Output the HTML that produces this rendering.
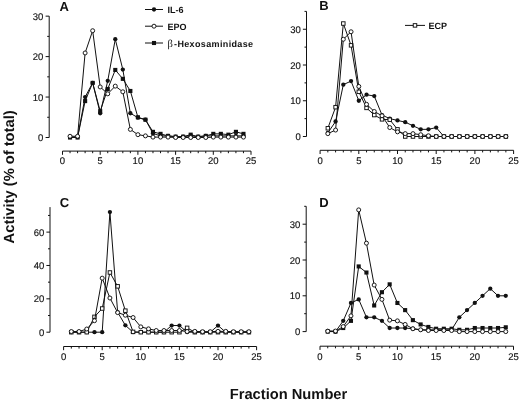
<!DOCTYPE html>
<html lang="en"><head><meta charset="utf-8"><title>Activity vs Fraction Number</title>
<style>
html,body{margin:0;padding:0;background:#fff;}
body{width:520px;height:400px;overflow:hidden;}
svg{display:block;will-change:transform;}
text{font-family:"Liberation Sans",Arial,Helvetica,sans-serif;fill:#111;text-rendering:geometricPrecision;}
.tk{font-size:9.7px;stroke:#111;stroke-width:0.15px;}
.pl{font-size:13px;font-weight:bold;}
.lg{font-size:9px;font-weight:bold;}
.ax{font-size:14.7px;font-weight:bold;}
</style></head><body>
<svg width="520" height="400" viewBox="0 0 520 400">
<rect width="520" height="400" fill="#fff"/>

<g id="panelA">
<g stroke="#111" stroke-width="1.0" fill="none">
<path d="M49.2 16.15V137.5"/>
<path d="M45.6 137.5H49.2M45.6 97.05H49.2M45.6 56.6H49.2M45.6 16.15H49.2M47.2 117.28H49.2M47.2 76.83H49.2M47.2 36.38H49.2"/>
<path d="M62.5 151.1H251"/>
<path d="M62.5 151.1v3.7M70.04 151.1v2.1M77.58 151.1v2.1M85.12 151.1v2.1M92.66 151.1v2.1M100.2 151.1v3.7M107.74 151.1v2.1M115.28 151.1v2.1M122.82 151.1v2.1M130.36 151.1v2.1M137.9 151.1v3.7M145.44 151.1v2.1M152.98 151.1v2.1M160.52 151.1v2.1M168.06 151.1v2.1M175.6 151.1v3.7M183.14 151.1v2.1M190.68 151.1v2.1M198.22 151.1v2.1M205.76 151.1v2.1M213.3 151.1v3.7M220.84 151.1v2.1M228.38 151.1v2.1M235.92 151.1v2.1M243.46 151.1v2.1M251 151.1v3.7"/>
</g>
<text class="tk" x="43.4" y="141.1" text-anchor="end" textLength="5.28" lengthAdjust="spacingAndGlyphs">0</text>
<text class="tk" x="43.4" y="100.65" text-anchor="end" textLength="10.56" lengthAdjust="spacingAndGlyphs">10</text>
<text class="tk" x="43.4" y="60.2" text-anchor="end" textLength="10.56" lengthAdjust="spacingAndGlyphs">20</text>
<text class="tk" x="43.4" y="19.75" text-anchor="end" textLength="10.56" lengthAdjust="spacingAndGlyphs">30</text>
<text class="tk" x="62.5" y="164.3" text-anchor="middle" textLength="5.28" lengthAdjust="spacingAndGlyphs">0</text>
<text class="tk" x="100.2" y="164.3" text-anchor="middle" textLength="5.28" lengthAdjust="spacingAndGlyphs">5</text>
<text class="tk" x="137.9" y="164.3" text-anchor="middle" textLength="10.56" lengthAdjust="spacingAndGlyphs">10</text>
<text class="tk" x="175.6" y="164.3" text-anchor="middle" textLength="10.56" lengthAdjust="spacingAndGlyphs">15</text>
<text class="tk" x="213.3" y="164.3" text-anchor="middle" textLength="10.56" lengthAdjust="spacingAndGlyphs">20</text>
<text class="tk" x="251" y="164.3" text-anchor="middle" textLength="10.56" lengthAdjust="spacingAndGlyphs">25</text>
<text class="pl" x="64.3" y="11.4" text-anchor="middle">A</text>
<polyline points="70.04,137.5 77.58,137.5 85.12,101.09 92.66,82.89 100.2,111.21 107.74,88.96 115.28,69.95 122.82,78.85 130.36,90.98 137.9,117.28 145.44,119.7 152.98,131.84 160.52,133.86 168.06,135.88 175.6,136.69 183.14,136.69 190.68,134.67 198.22,136.69 205.76,135.88 213.3,133.86 220.84,133.86 228.38,134.67 235.92,131.84 243.46,133.86" fill="none" stroke="#111" stroke-width="1.0" stroke-linejoin="round"/>
<rect x="67.99" y="135.45" width="4.1" height="4.1" fill="#111"/><rect x="75.53" y="135.45" width="4.1" height="4.1" fill="#111"/><rect x="83.07" y="99.05" width="4.1" height="4.1" fill="#111"/><rect x="90.61" y="80.84" width="4.1" height="4.1" fill="#111"/><rect x="98.15" y="109.16" width="4.1" height="4.1" fill="#111"/><rect x="105.69" y="86.91" width="4.1" height="4.1" fill="#111"/><rect x="113.23" y="67.9" width="4.1" height="4.1" fill="#111"/><rect x="120.77" y="76.8" width="4.1" height="4.1" fill="#111"/><rect x="128.31" y="88.93" width="4.1" height="4.1" fill="#111"/><rect x="135.85" y="115.23" width="4.1" height="4.1" fill="#111"/><rect x="143.39" y="117.65" width="4.1" height="4.1" fill="#111"/><rect x="150.93" y="129.79" width="4.1" height="4.1" fill="#111"/><rect x="158.47" y="131.81" width="4.1" height="4.1" fill="#111"/><rect x="166.01" y="133.83" width="4.1" height="4.1" fill="#111"/><rect x="173.55" y="134.64" width="4.1" height="4.1" fill="#111"/><rect x="181.09" y="134.64" width="4.1" height="4.1" fill="#111"/><rect x="188.63" y="132.62" width="4.1" height="4.1" fill="#111"/><rect x="196.17" y="134.64" width="4.1" height="4.1" fill="#111"/><rect x="203.71" y="133.83" width="4.1" height="4.1" fill="#111"/><rect x="211.25" y="131.81" width="4.1" height="4.1" fill="#111"/><rect x="218.79" y="131.81" width="4.1" height="4.1" fill="#111"/><rect x="226.33" y="132.62" width="4.1" height="4.1" fill="#111"/><rect x="233.87" y="129.79" width="4.1" height="4.1" fill="#111"/><rect x="241.41" y="131.81" width="4.1" height="4.1" fill="#111"/>
<polyline points="70.04,137.1 77.58,137.1 85.12,97.05 92.66,82.89 100.2,113.23 107.74,80.87 115.28,39.21 122.82,69.54 130.36,113.23 137.9,117.68 145.44,119.7 152.98,133.46 160.52,135.88 168.06,135.88 175.6,136.69 183.14,136.69 190.68,135.88 198.22,136.69 205.76,135.88 213.3,135.88 220.84,135.88 228.38,135.88 235.92,135.88 243.46,135.88" fill="none" stroke="#111" stroke-width="1.0" stroke-linejoin="round"/>
<circle cx="70.04" cy="137.1" r="2.15" fill="#111"/><circle cx="77.58" cy="137.1" r="2.15" fill="#111"/><circle cx="85.12" cy="97.05" r="2.15" fill="#111"/><circle cx="92.66" cy="82.89" r="2.15" fill="#111"/><circle cx="100.2" cy="113.23" r="2.15" fill="#111"/><circle cx="107.74" cy="80.87" r="2.15" fill="#111"/><circle cx="115.28" cy="39.21" r="2.15" fill="#111"/><circle cx="122.82" cy="69.54" r="2.15" fill="#111"/><circle cx="130.36" cy="113.23" r="2.15" fill="#111"/><circle cx="137.9" cy="117.68" r="2.15" fill="#111"/><circle cx="145.44" cy="119.7" r="2.15" fill="#111"/><circle cx="152.98" cy="133.46" r="2.15" fill="#111"/><circle cx="160.52" cy="135.88" r="2.15" fill="#111"/><circle cx="168.06" cy="135.88" r="2.15" fill="#111"/><circle cx="175.6" cy="136.69" r="2.15" fill="#111"/><circle cx="183.14" cy="136.69" r="2.15" fill="#111"/><circle cx="190.68" cy="135.88" r="2.15" fill="#111"/><circle cx="198.22" cy="136.69" r="2.15" fill="#111"/><circle cx="205.76" cy="135.88" r="2.15" fill="#111"/><circle cx="213.3" cy="135.88" r="2.15" fill="#111"/><circle cx="220.84" cy="135.88" r="2.15" fill="#111"/><circle cx="228.38" cy="135.88" r="2.15" fill="#111"/><circle cx="235.92" cy="135.88" r="2.15" fill="#111"/><circle cx="243.46" cy="135.88" r="2.15" fill="#111"/>
<polyline points="70.04,136.29 77.58,136.29 85.12,52.96 92.66,30.71 100.2,86.94 107.74,93.81 115.28,86.13 122.82,91.79 130.36,129.41 137.9,134.67 145.44,135.88 152.98,137.1 160.52,137.1 168.06,137.1 175.6,137.5 183.14,137.5 190.68,137.5 198.22,137.5 205.76,137.5 213.3,137.1 220.84,137.1 228.38,137.1 235.92,137.1 243.46,137.1" fill="none" stroke="#111" stroke-width="1.0" stroke-linejoin="round"/>
<circle cx="70.04" cy="136.29" r="2.0" fill="#fff" stroke="#111" stroke-width="0.95"/><circle cx="77.58" cy="136.29" r="2.0" fill="#fff" stroke="#111" stroke-width="0.95"/><circle cx="85.12" cy="52.96" r="2.0" fill="#fff" stroke="#111" stroke-width="0.95"/><circle cx="92.66" cy="30.71" r="2.0" fill="#fff" stroke="#111" stroke-width="0.95"/><circle cx="100.2" cy="86.94" r="2.0" fill="#fff" stroke="#111" stroke-width="0.95"/><circle cx="107.74" cy="93.81" r="2.0" fill="#fff" stroke="#111" stroke-width="0.95"/><circle cx="115.28" cy="86.13" r="2.0" fill="#fff" stroke="#111" stroke-width="0.95"/><circle cx="122.82" cy="91.79" r="2.0" fill="#fff" stroke="#111" stroke-width="0.95"/><circle cx="130.36" cy="129.41" r="2.0" fill="#fff" stroke="#111" stroke-width="0.95"/><circle cx="137.9" cy="134.67" r="2.0" fill="#fff" stroke="#111" stroke-width="0.95"/><circle cx="145.44" cy="135.88" r="2.0" fill="#fff" stroke="#111" stroke-width="0.95"/><circle cx="152.98" cy="137.1" r="2.0" fill="#fff" stroke="#111" stroke-width="0.95"/><circle cx="160.52" cy="137.1" r="2.0" fill="#fff" stroke="#111" stroke-width="0.95"/><circle cx="168.06" cy="137.1" r="2.0" fill="#fff" stroke="#111" stroke-width="0.95"/><circle cx="175.6" cy="137.5" r="2.0" fill="#fff" stroke="#111" stroke-width="0.95"/><circle cx="183.14" cy="137.5" r="2.0" fill="#fff" stroke="#111" stroke-width="0.95"/><circle cx="190.68" cy="137.5" r="2.0" fill="#fff" stroke="#111" stroke-width="0.95"/><circle cx="198.22" cy="137.5" r="2.0" fill="#fff" stroke="#111" stroke-width="0.95"/><circle cx="205.76" cy="137.5" r="2.0" fill="#fff" stroke="#111" stroke-width="0.95"/><circle cx="213.3" cy="137.1" r="2.0" fill="#fff" stroke="#111" stroke-width="0.95"/><circle cx="220.84" cy="137.1" r="2.0" fill="#fff" stroke="#111" stroke-width="0.95"/><circle cx="228.38" cy="137.1" r="2.0" fill="#fff" stroke="#111" stroke-width="0.95"/><circle cx="235.92" cy="137.1" r="2.0" fill="#fff" stroke="#111" stroke-width="0.95"/><circle cx="243.46" cy="137.1" r="2.0" fill="#fff" stroke="#111" stroke-width="0.95"/>
</g>
<g id="panelB">
<g stroke="#111" stroke-width="1.0" fill="none">
<path d="M306.5 11.38V136.5"/>
<path d="M302.9 136.5H306.5M302.9 100.75H306.5M302.9 65H306.5M302.9 29.25H306.5M304.5 118.62H306.5M304.5 82.88H306.5M304.5 47.12H306.5M304.5 11.38H306.5"/>
<path d="M320.1 150.3H513.6"/>
<path d="M320.1 150.3v3.7M327.84 150.3v2.1M335.58 150.3v2.1M343.32 150.3v2.1M351.06 150.3v2.1M358.8 150.3v3.7M366.54 150.3v2.1M374.28 150.3v2.1M382.02 150.3v2.1M389.76 150.3v2.1M397.5 150.3v3.7M405.24 150.3v2.1M412.98 150.3v2.1M420.72 150.3v2.1M428.46 150.3v2.1M436.2 150.3v3.7M443.94 150.3v2.1M451.68 150.3v2.1M459.42 150.3v2.1M467.16 150.3v2.1M474.9 150.3v3.7M482.64 150.3v2.1M490.38 150.3v2.1M498.12 150.3v2.1M505.86 150.3v2.1M513.6 150.3v3.7"/>
</g>
<text class="tk" x="300.7" y="140.1" text-anchor="end" textLength="5.28" lengthAdjust="spacingAndGlyphs">0</text>
<text class="tk" x="300.7" y="104.35" text-anchor="end" textLength="10.56" lengthAdjust="spacingAndGlyphs">10</text>
<text class="tk" x="300.7" y="68.6" text-anchor="end" textLength="10.56" lengthAdjust="spacingAndGlyphs">20</text>
<text class="tk" x="300.7" y="32.85" text-anchor="end" textLength="10.56" lengthAdjust="spacingAndGlyphs">30</text>
<text class="tk" x="320.1" y="163.6" text-anchor="middle" textLength="5.28" lengthAdjust="spacingAndGlyphs">0</text>
<text class="tk" x="358.8" y="163.6" text-anchor="middle" textLength="5.28" lengthAdjust="spacingAndGlyphs">5</text>
<text class="tk" x="397.5" y="163.6" text-anchor="middle" textLength="10.56" lengthAdjust="spacingAndGlyphs">10</text>
<text class="tk" x="436.2" y="163.6" text-anchor="middle" textLength="10.56" lengthAdjust="spacingAndGlyphs">15</text>
<text class="tk" x="474.9" y="163.6" text-anchor="middle" textLength="10.56" lengthAdjust="spacingAndGlyphs">20</text>
<text class="tk" x="513.6" y="163.6" text-anchor="middle" textLength="10.56" lengthAdjust="spacingAndGlyphs">25</text>
<text class="pl" x="324" y="10" text-anchor="middle">B</text>
<polyline points="327.84,132.93 335.58,121.48 343.32,84.66 351.06,81.09 358.8,100.75 366.54,94.67 374.28,96.1 382.02,115.05 389.76,118.62 397.5,120.41 405.24,122.2 412.98,125.78 420.72,129.35 428.46,129.35 436.2,127.56 443.94,136.5 451.68,136.5 459.42,136.5 467.16,136.5 474.9,136.5 482.64,136.5 490.38,136.5 498.12,136.5 505.86,136.5" fill="none" stroke="#111" stroke-width="1.0" stroke-linejoin="round"/>
<circle cx="327.84" cy="132.93" r="2.15" fill="#111"/><circle cx="335.58" cy="121.48" r="2.15" fill="#111"/><circle cx="343.32" cy="84.66" r="2.15" fill="#111"/><circle cx="351.06" cy="81.09" r="2.15" fill="#111"/><circle cx="358.8" cy="100.75" r="2.15" fill="#111"/><circle cx="366.54" cy="94.67" r="2.15" fill="#111"/><circle cx="374.28" cy="96.1" r="2.15" fill="#111"/><circle cx="382.02" cy="115.05" r="2.15" fill="#111"/><circle cx="389.76" cy="118.62" r="2.15" fill="#111"/><circle cx="397.5" cy="120.41" r="2.15" fill="#111"/><circle cx="405.24" cy="122.2" r="2.15" fill="#111"/><circle cx="412.98" cy="125.78" r="2.15" fill="#111"/><circle cx="420.72" cy="129.35" r="2.15" fill="#111"/><circle cx="428.46" cy="129.35" r="2.15" fill="#111"/><circle cx="436.2" cy="127.56" r="2.15" fill="#111"/><circle cx="443.94" cy="136.5" r="2.15" fill="#111"/><circle cx="451.68" cy="136.5" r="2.15" fill="#111"/><circle cx="459.42" cy="136.5" r="2.15" fill="#111"/><circle cx="467.16" cy="136.5" r="2.15" fill="#111"/><circle cx="474.9" cy="136.5" r="2.15" fill="#111"/><circle cx="482.64" cy="136.5" r="2.15" fill="#111"/><circle cx="490.38" cy="136.5" r="2.15" fill="#111"/><circle cx="498.12" cy="136.5" r="2.15" fill="#111"/><circle cx="505.86" cy="136.5" r="2.15" fill="#111"/>
<polyline points="327.84,128.28 335.58,107.19 343.32,23.53 351.06,45.34 358.8,91.81 366.54,107.9 374.28,115.05 382.02,119.34 389.76,119.7 397.5,129.35 405.24,136.5 412.98,136.5 420.72,136.5 428.46,136.5 436.2,136.5 443.94,136.5 451.68,136.5 459.42,136.5 467.16,136.5 474.9,136.5 482.64,136.5 490.38,136.5 498.12,136.5 505.86,136.5" fill="none" stroke="#111" stroke-width="1.0" stroke-linejoin="round"/>
<rect x="326.09" y="126.53" width="3.5" height="3.5" fill="#fff" stroke="#111" stroke-width="0.95"/><rect x="333.83" y="105.44" width="3.5" height="3.5" fill="#fff" stroke="#111" stroke-width="0.95"/><rect x="341.57" y="21.78" width="3.5" height="3.5" fill="#fff" stroke="#111" stroke-width="0.95"/><rect x="349.31" y="43.59" width="3.5" height="3.5" fill="#fff" stroke="#111" stroke-width="0.95"/><rect x="357.05" y="90.06" width="3.5" height="3.5" fill="#fff" stroke="#111" stroke-width="0.95"/><rect x="364.79" y="106.15" width="3.5" height="3.5" fill="#fff" stroke="#111" stroke-width="0.95"/><rect x="372.53" y="113.3" width="3.5" height="3.5" fill="#fff" stroke="#111" stroke-width="0.95"/><rect x="380.27" y="117.59" width="3.5" height="3.5" fill="#fff" stroke="#111" stroke-width="0.95"/><rect x="388.01" y="117.95" width="3.5" height="3.5" fill="#fff" stroke="#111" stroke-width="0.95"/><rect x="395.75" y="127.6" width="3.5" height="3.5" fill="#fff" stroke="#111" stroke-width="0.95"/><rect x="403.49" y="134.75" width="3.5" height="3.5" fill="#fff" stroke="#111" stroke-width="0.95"/><rect x="411.23" y="134.75" width="3.5" height="3.5" fill="#fff" stroke="#111" stroke-width="0.95"/><rect x="418.97" y="134.75" width="3.5" height="3.5" fill="#fff" stroke="#111" stroke-width="0.95"/><rect x="426.71" y="134.75" width="3.5" height="3.5" fill="#fff" stroke="#111" stroke-width="0.95"/><rect x="434.45" y="134.75" width="3.5" height="3.5" fill="#fff" stroke="#111" stroke-width="0.95"/><rect x="442.19" y="134.75" width="3.5" height="3.5" fill="#fff" stroke="#111" stroke-width="0.95"/><rect x="449.93" y="134.75" width="3.5" height="3.5" fill="#fff" stroke="#111" stroke-width="0.95"/><rect x="457.67" y="134.75" width="3.5" height="3.5" fill="#fff" stroke="#111" stroke-width="0.95"/><rect x="465.41" y="134.75" width="3.5" height="3.5" fill="#fff" stroke="#111" stroke-width="0.95"/><rect x="473.15" y="134.75" width="3.5" height="3.5" fill="#fff" stroke="#111" stroke-width="0.95"/><rect x="480.89" y="134.75" width="3.5" height="3.5" fill="#fff" stroke="#111" stroke-width="0.95"/><rect x="488.63" y="134.75" width="3.5" height="3.5" fill="#fff" stroke="#111" stroke-width="0.95"/><rect x="496.37" y="134.75" width="3.5" height="3.5" fill="#fff" stroke="#111" stroke-width="0.95"/><rect x="504.11" y="134.75" width="3.5" height="3.5" fill="#fff" stroke="#111" stroke-width="0.95"/>
<polyline points="327.84,133.64 335.58,130.06 343.32,39.26 351.06,31.75 358.8,86.45 366.54,104.32 374.28,111.47 382.02,115.77 389.76,127.56 397.5,131.85 405.24,133.64 412.98,133.64 420.72,134.71 428.46,135.78 436.2,136.5 443.94,136.5 451.68,136.5 459.42,136.5 467.16,136.5 474.9,136.5 482.64,136.5 490.38,136.5 498.12,136.5 505.86,136.5" fill="none" stroke="#111" stroke-width="1.0" stroke-linejoin="round"/>
<circle cx="327.84" cy="133.64" r="2.0" fill="#fff" stroke="#111" stroke-width="0.95"/><circle cx="335.58" cy="130.06" r="2.0" fill="#fff" stroke="#111" stroke-width="0.95"/><circle cx="343.32" cy="39.26" r="2.0" fill="#fff" stroke="#111" stroke-width="0.95"/><circle cx="351.06" cy="31.75" r="2.0" fill="#fff" stroke="#111" stroke-width="0.95"/><circle cx="358.8" cy="86.45" r="2.0" fill="#fff" stroke="#111" stroke-width="0.95"/><circle cx="366.54" cy="104.32" r="2.0" fill="#fff" stroke="#111" stroke-width="0.95"/><circle cx="374.28" cy="111.47" r="2.0" fill="#fff" stroke="#111" stroke-width="0.95"/><circle cx="382.02" cy="115.77" r="2.0" fill="#fff" stroke="#111" stroke-width="0.95"/><circle cx="389.76" cy="127.56" r="2.0" fill="#fff" stroke="#111" stroke-width="0.95"/><circle cx="397.5" cy="131.85" r="2.0" fill="#fff" stroke="#111" stroke-width="0.95"/><circle cx="405.24" cy="133.64" r="2.0" fill="#fff" stroke="#111" stroke-width="0.95"/><circle cx="412.98" cy="133.64" r="2.0" fill="#fff" stroke="#111" stroke-width="0.95"/><circle cx="420.72" cy="134.71" r="2.0" fill="#fff" stroke="#111" stroke-width="0.95"/><circle cx="428.46" cy="135.78" r="2.0" fill="#fff" stroke="#111" stroke-width="0.95"/><circle cx="436.2" cy="136.5" r="2.0" fill="#fff" stroke="#111" stroke-width="0.95"/><circle cx="443.94" cy="136.5" r="2.0" fill="#fff" stroke="#111" stroke-width="0.95"/><circle cx="451.68" cy="136.5" r="2.0" fill="#fff" stroke="#111" stroke-width="0.95"/><circle cx="459.42" cy="136.5" r="2.0" fill="#fff" stroke="#111" stroke-width="0.95"/><circle cx="467.16" cy="136.5" r="2.0" fill="#fff" stroke="#111" stroke-width="0.95"/><circle cx="474.9" cy="136.5" r="2.0" fill="#fff" stroke="#111" stroke-width="0.95"/><circle cx="482.64" cy="136.5" r="2.0" fill="#fff" stroke="#111" stroke-width="0.95"/><circle cx="490.38" cy="136.5" r="2.0" fill="#fff" stroke="#111" stroke-width="0.95"/><circle cx="498.12" cy="136.5" r="2.0" fill="#fff" stroke="#111" stroke-width="0.95"/><circle cx="505.86" cy="136.5" r="2.0" fill="#fff" stroke="#111" stroke-width="0.95"/>
</g>
<g id="panelC">
<g stroke="#111" stroke-width="1.0" fill="none">
<path d="M50 207.1V332.2"/>
<path d="M46.4 332.2H50M46.4 298.84H50M46.4 265.48H50M46.4 232.12H50M48 315.52H50M48 282.16H50M48 248.8H50M48 215.44H50"/>
<path d="M63.6 346.5H256.6"/>
<path d="M63.6 346.5v3.7M71.32 346.5v2.1M79.04 346.5v2.1M86.76 346.5v2.1M94.48 346.5v2.1M102.2 346.5v3.7M109.92 346.5v2.1M117.64 346.5v2.1M125.36 346.5v2.1M133.08 346.5v2.1M140.8 346.5v3.7M148.52 346.5v2.1M156.24 346.5v2.1M163.96 346.5v2.1M171.68 346.5v2.1M179.4 346.5v3.7M187.12 346.5v2.1M194.84 346.5v2.1M202.56 346.5v2.1M210.28 346.5v2.1M218 346.5v3.7M225.72 346.5v2.1M233.44 346.5v2.1M241.16 346.5v2.1M248.88 346.5v2.1M256.6 346.5v3.7"/>
</g>
<text class="tk" x="44.2" y="335.8" text-anchor="end" textLength="5.28" lengthAdjust="spacingAndGlyphs">0</text>
<text class="tk" x="44.2" y="302.44" text-anchor="end" textLength="10.56" lengthAdjust="spacingAndGlyphs">20</text>
<text class="tk" x="44.2" y="269.08" text-anchor="end" textLength="10.56" lengthAdjust="spacingAndGlyphs">40</text>
<text class="tk" x="44.2" y="235.72" text-anchor="end" textLength="10.56" lengthAdjust="spacingAndGlyphs">60</text>
<text class="tk" x="63.6" y="359.8" text-anchor="middle" textLength="5.28" lengthAdjust="spacingAndGlyphs">0</text>
<text class="tk" x="102.2" y="359.8" text-anchor="middle" textLength="5.28" lengthAdjust="spacingAndGlyphs">5</text>
<text class="tk" x="140.8" y="359.8" text-anchor="middle" textLength="10.56" lengthAdjust="spacingAndGlyphs">10</text>
<text class="tk" x="179.4" y="359.8" text-anchor="middle" textLength="10.56" lengthAdjust="spacingAndGlyphs">15</text>
<text class="tk" x="218" y="359.8" text-anchor="middle" textLength="10.56" lengthAdjust="spacingAndGlyphs">20</text>
<text class="tk" x="256.6" y="359.8" text-anchor="middle" textLength="10.56" lengthAdjust="spacingAndGlyphs">25</text>
<text class="pl" x="64.5" y="207" text-anchor="middle">C</text>
<polyline points="71.32,332.2 79.04,332.2 86.76,332.2 94.48,332.2 102.2,332.2 109.92,212.1 117.64,312.18 125.36,325.36 133.08,332.2 140.8,332.2 148.52,332.2 156.24,332.2 163.96,332.2 171.68,325.53 179.4,325.53 187.12,332.2 194.84,332.2 202.56,332.2 210.28,332.2 218,325.53 225.72,332.2 233.44,332.2 241.16,332.2 248.88,332.2" fill="none" stroke="#111" stroke-width="1.0" stroke-linejoin="round"/>
<circle cx="71.32" cy="332.2" r="2.15" fill="#111"/><circle cx="79.04" cy="332.2" r="2.15" fill="#111"/><circle cx="86.76" cy="332.2" r="2.15" fill="#111"/><circle cx="94.48" cy="332.2" r="2.15" fill="#111"/><circle cx="102.2" cy="332.2" r="2.15" fill="#111"/><circle cx="109.92" cy="212.1" r="2.15" fill="#111"/><circle cx="117.64" cy="312.18" r="2.15" fill="#111"/><circle cx="125.36" cy="325.36" r="2.15" fill="#111"/><circle cx="133.08" cy="332.2" r="2.15" fill="#111"/><circle cx="140.8" cy="332.2" r="2.15" fill="#111"/><circle cx="148.52" cy="332.2" r="2.15" fill="#111"/><circle cx="156.24" cy="332.2" r="2.15" fill="#111"/><circle cx="163.96" cy="332.2" r="2.15" fill="#111"/><circle cx="171.68" cy="325.53" r="2.15" fill="#111"/><circle cx="179.4" cy="325.53" r="2.15" fill="#111"/><circle cx="187.12" cy="332.2" r="2.15" fill="#111"/><circle cx="194.84" cy="332.2" r="2.15" fill="#111"/><circle cx="202.56" cy="332.2" r="2.15" fill="#111"/><circle cx="210.28" cy="332.2" r="2.15" fill="#111"/><circle cx="218" cy="325.53" r="2.15" fill="#111"/><circle cx="225.72" cy="332.2" r="2.15" fill="#111"/><circle cx="233.44" cy="332.2" r="2.15" fill="#111"/><circle cx="241.16" cy="332.2" r="2.15" fill="#111"/><circle cx="248.88" cy="332.2" r="2.15" fill="#111"/>
<polyline points="71.32,332.2 79.04,332.2 86.76,332.2 94.48,316.85 102.2,308.51 109.92,272.49 117.64,286.33 125.36,310.68 133.08,331.87 140.8,332.2 148.52,332.2 156.24,332.2 163.96,332.2 171.68,332.2 179.4,332.2 187.12,327.86 194.84,332.2 202.56,332.2 210.28,332.2 218,332.2 225.72,332.2 233.44,332.2 241.16,332.2 248.88,332.2" fill="none" stroke="#111" stroke-width="1.0" stroke-linejoin="round"/>
<rect x="69.57" y="330.45" width="3.5" height="3.5" fill="#fff" stroke="#111" stroke-width="0.95"/><rect x="77.29" y="330.45" width="3.5" height="3.5" fill="#fff" stroke="#111" stroke-width="0.95"/><rect x="85.01" y="330.45" width="3.5" height="3.5" fill="#fff" stroke="#111" stroke-width="0.95"/><rect x="92.73" y="315.1" width="3.5" height="3.5" fill="#fff" stroke="#111" stroke-width="0.95"/><rect x="100.45" y="306.76" width="3.5" height="3.5" fill="#fff" stroke="#111" stroke-width="0.95"/><rect x="108.17" y="270.74" width="3.5" height="3.5" fill="#fff" stroke="#111" stroke-width="0.95"/><rect x="115.89" y="284.58" width="3.5" height="3.5" fill="#fff" stroke="#111" stroke-width="0.95"/><rect x="123.61" y="308.93" width="3.5" height="3.5" fill="#fff" stroke="#111" stroke-width="0.95"/><rect x="131.33" y="330.12" width="3.5" height="3.5" fill="#fff" stroke="#111" stroke-width="0.95"/><rect x="139.05" y="330.45" width="3.5" height="3.5" fill="#fff" stroke="#111" stroke-width="0.95"/><rect x="146.77" y="330.45" width="3.5" height="3.5" fill="#fff" stroke="#111" stroke-width="0.95"/><rect x="154.49" y="330.45" width="3.5" height="3.5" fill="#fff" stroke="#111" stroke-width="0.95"/><rect x="162.21" y="330.45" width="3.5" height="3.5" fill="#fff" stroke="#111" stroke-width="0.95"/><rect x="169.93" y="330.45" width="3.5" height="3.5" fill="#fff" stroke="#111" stroke-width="0.95"/><rect x="177.65" y="330.45" width="3.5" height="3.5" fill="#fff" stroke="#111" stroke-width="0.95"/><rect x="185.37" y="326.11" width="3.5" height="3.5" fill="#fff" stroke="#111" stroke-width="0.95"/><rect x="193.09" y="330.45" width="3.5" height="3.5" fill="#fff" stroke="#111" stroke-width="0.95"/><rect x="200.81" y="330.45" width="3.5" height="3.5" fill="#fff" stroke="#111" stroke-width="0.95"/><rect x="208.53" y="330.45" width="3.5" height="3.5" fill="#fff" stroke="#111" stroke-width="0.95"/><rect x="216.25" y="330.45" width="3.5" height="3.5" fill="#fff" stroke="#111" stroke-width="0.95"/><rect x="223.97" y="330.45" width="3.5" height="3.5" fill="#fff" stroke="#111" stroke-width="0.95"/><rect x="231.69" y="330.45" width="3.5" height="3.5" fill="#fff" stroke="#111" stroke-width="0.95"/><rect x="239.41" y="330.45" width="3.5" height="3.5" fill="#fff" stroke="#111" stroke-width="0.95"/><rect x="247.13" y="330.45" width="3.5" height="3.5" fill="#fff" stroke="#111" stroke-width="0.95"/>
<polyline points="71.32,331.53 79.04,331.53 86.76,329.03 94.48,320.69 102.2,278.16 109.92,298.01 117.64,312.6 125.36,315.19 133.08,317.52 140.8,326.86 148.52,328.86 156.24,330.53 163.96,330.53 171.68,330.53 179.4,330.53 187.12,331.53 194.84,331.37 202.56,331.7 210.28,331.7 218,331.37 225.72,331.37 233.44,331.7 241.16,331.7 248.88,331.7" fill="none" stroke="#111" stroke-width="1.0" stroke-linejoin="round"/>
<circle cx="71.32" cy="331.53" r="2.0" fill="#fff" stroke="#111" stroke-width="0.95"/><circle cx="79.04" cy="331.53" r="2.0" fill="#fff" stroke="#111" stroke-width="0.95"/><circle cx="86.76" cy="329.03" r="2.0" fill="#fff" stroke="#111" stroke-width="0.95"/><circle cx="94.48" cy="320.69" r="2.0" fill="#fff" stroke="#111" stroke-width="0.95"/><circle cx="102.2" cy="278.16" r="2.0" fill="#fff" stroke="#111" stroke-width="0.95"/><circle cx="109.92" cy="298.01" r="2.0" fill="#fff" stroke="#111" stroke-width="0.95"/><circle cx="117.64" cy="312.6" r="2.0" fill="#fff" stroke="#111" stroke-width="0.95"/><circle cx="125.36" cy="315.19" r="2.0" fill="#fff" stroke="#111" stroke-width="0.95"/><circle cx="133.08" cy="317.52" r="2.0" fill="#fff" stroke="#111" stroke-width="0.95"/><circle cx="140.8" cy="326.86" r="2.0" fill="#fff" stroke="#111" stroke-width="0.95"/><circle cx="148.52" cy="328.86" r="2.0" fill="#fff" stroke="#111" stroke-width="0.95"/><circle cx="156.24" cy="330.53" r="2.0" fill="#fff" stroke="#111" stroke-width="0.95"/><circle cx="163.96" cy="330.53" r="2.0" fill="#fff" stroke="#111" stroke-width="0.95"/><circle cx="171.68" cy="330.53" r="2.0" fill="#fff" stroke="#111" stroke-width="0.95"/><circle cx="179.4" cy="330.53" r="2.0" fill="#fff" stroke="#111" stroke-width="0.95"/><circle cx="187.12" cy="331.53" r="2.0" fill="#fff" stroke="#111" stroke-width="0.95"/><circle cx="194.84" cy="331.37" r="2.0" fill="#fff" stroke="#111" stroke-width="0.95"/><circle cx="202.56" cy="331.7" r="2.0" fill="#fff" stroke="#111" stroke-width="0.95"/><circle cx="210.28" cy="331.7" r="2.0" fill="#fff" stroke="#111" stroke-width="0.95"/><circle cx="218" cy="331.37" r="2.0" fill="#fff" stroke="#111" stroke-width="0.95"/><circle cx="225.72" cy="331.37" r="2.0" fill="#fff" stroke="#111" stroke-width="0.95"/><circle cx="233.44" cy="331.7" r="2.0" fill="#fff" stroke="#111" stroke-width="0.95"/><circle cx="241.16" cy="331.7" r="2.0" fill="#fff" stroke="#111" stroke-width="0.95"/><circle cx="248.88" cy="331.7" r="2.0" fill="#fff" stroke="#111" stroke-width="0.95"/>
</g>
<g id="panelD">
<g stroke="#111" stroke-width="1.0" fill="none">
<path d="M306.2 206.3V331.6"/>
<path d="M302.6 331.6H306.2M302.6 295.8H306.2M302.6 260H306.2M302.6 224.2H306.2M304.2 313.7H306.2M304.2 277.9H306.2M304.2 242.1H306.2M304.2 206.3H306.2"/>
<path d="M320 346.2H513.5"/>
<path d="M320 346.2v3.7M327.74 346.2v2.1M335.48 346.2v2.1M343.22 346.2v2.1M350.96 346.2v2.1M358.7 346.2v3.7M366.44 346.2v2.1M374.18 346.2v2.1M381.92 346.2v2.1M389.66 346.2v2.1M397.4 346.2v3.7M405.14 346.2v2.1M412.88 346.2v2.1M420.62 346.2v2.1M428.36 346.2v2.1M436.1 346.2v3.7M443.84 346.2v2.1M451.58 346.2v2.1M459.32 346.2v2.1M467.06 346.2v2.1M474.8 346.2v3.7M482.54 346.2v2.1M490.28 346.2v2.1M498.02 346.2v2.1M505.76 346.2v2.1M513.5 346.2v3.7"/>
</g>
<text class="tk" x="300.4" y="335.2" text-anchor="end" textLength="5.28" lengthAdjust="spacingAndGlyphs">0</text>
<text class="tk" x="300.4" y="299.4" text-anchor="end" textLength="10.56" lengthAdjust="spacingAndGlyphs">10</text>
<text class="tk" x="300.4" y="263.6" text-anchor="end" textLength="10.56" lengthAdjust="spacingAndGlyphs">20</text>
<text class="tk" x="300.4" y="227.8" text-anchor="end" textLength="10.56" lengthAdjust="spacingAndGlyphs">30</text>
<text class="tk" x="320" y="360" text-anchor="middle" textLength="5.28" lengthAdjust="spacingAndGlyphs">0</text>
<text class="tk" x="358.7" y="360" text-anchor="middle" textLength="5.28" lengthAdjust="spacingAndGlyphs">5</text>
<text class="tk" x="397.4" y="360" text-anchor="middle" textLength="10.56" lengthAdjust="spacingAndGlyphs">10</text>
<text class="tk" x="436.1" y="360" text-anchor="middle" textLength="10.56" lengthAdjust="spacingAndGlyphs">15</text>
<text class="tk" x="474.8" y="360" text-anchor="middle" textLength="10.56" lengthAdjust="spacingAndGlyphs">20</text>
<text class="tk" x="513.5" y="360" text-anchor="middle" textLength="10.56" lengthAdjust="spacingAndGlyphs">25</text>
<text class="pl" x="324" y="207" text-anchor="middle">D</text>
<polyline points="327.74,330.88 335.48,331.6 343.22,320.86 350.96,302.96 358.7,299.38 366.44,317.28 374.18,317.28 381.92,320.86 389.66,328.02 397.4,328.02 405.14,328.02 412.88,328.74 420.62,329.81 428.36,329.81 436.1,329.81 443.84,329.81 451.58,329.81 459.32,317.28 467.06,310.12 474.8,302.96 482.54,295.8 490.28,288.64 498.02,295.8 505.76,295.8" fill="none" stroke="#111" stroke-width="1.0" stroke-linejoin="round"/>
<circle cx="327.74" cy="330.88" r="2.15" fill="#111"/><circle cx="335.48" cy="331.6" r="2.15" fill="#111"/><circle cx="343.22" cy="320.86" r="2.15" fill="#111"/><circle cx="350.96" cy="302.96" r="2.15" fill="#111"/><circle cx="358.7" cy="299.38" r="2.15" fill="#111"/><circle cx="366.44" cy="317.28" r="2.15" fill="#111"/><circle cx="374.18" cy="317.28" r="2.15" fill="#111"/><circle cx="381.92" cy="320.86" r="2.15" fill="#111"/><circle cx="389.66" cy="328.02" r="2.15" fill="#111"/><circle cx="397.4" cy="328.02" r="2.15" fill="#111"/><circle cx="405.14" cy="328.02" r="2.15" fill="#111"/><circle cx="412.88" cy="328.74" r="2.15" fill="#111"/><circle cx="420.62" cy="329.81" r="2.15" fill="#111"/><circle cx="428.36" cy="329.81" r="2.15" fill="#111"/><circle cx="436.1" cy="329.81" r="2.15" fill="#111"/><circle cx="443.84" cy="329.81" r="2.15" fill="#111"/><circle cx="451.58" cy="329.81" r="2.15" fill="#111"/><circle cx="459.32" cy="317.28" r="2.15" fill="#111"/><circle cx="467.06" cy="310.12" r="2.15" fill="#111"/><circle cx="474.8" cy="302.96" r="2.15" fill="#111"/><circle cx="482.54" cy="295.8" r="2.15" fill="#111"/><circle cx="490.28" cy="288.64" r="2.15" fill="#111"/><circle cx="498.02" cy="295.8" r="2.15" fill="#111"/><circle cx="505.76" cy="295.8" r="2.15" fill="#111"/>
<polyline points="327.74,331.6 335.48,331.6 343.22,328.02 350.96,320.86 358.7,266.44 366.44,272.53 374.18,305.47 381.92,292.22 389.66,284.34 397.4,302.96 405.14,310.12 412.88,320.14 420.62,324.44 428.36,326.95 436.1,328.74 443.84,328.74 451.58,328.74 459.32,329.81 467.06,329.81 474.8,328.02 482.54,328.02 490.28,328.02 498.02,328.02 505.76,327.3" fill="none" stroke="#111" stroke-width="1.0" stroke-linejoin="round"/>
<rect x="325.69" y="329.55" width="4.1" height="4.1" fill="#111"/><rect x="333.43" y="329.55" width="4.1" height="4.1" fill="#111"/><rect x="341.17" y="325.97" width="4.1" height="4.1" fill="#111"/><rect x="348.91" y="318.81" width="4.1" height="4.1" fill="#111"/><rect x="356.65" y="264.39" width="4.1" height="4.1" fill="#111"/><rect x="364.39" y="270.48" width="4.1" height="4.1" fill="#111"/><rect x="372.13" y="303.42" width="4.1" height="4.1" fill="#111"/><rect x="379.87" y="290.17" width="4.1" height="4.1" fill="#111"/><rect x="387.61" y="282.29" width="4.1" height="4.1" fill="#111"/><rect x="395.35" y="300.91" width="4.1" height="4.1" fill="#111"/><rect x="403.09" y="308.07" width="4.1" height="4.1" fill="#111"/><rect x="410.83" y="318.09" width="4.1" height="4.1" fill="#111"/><rect x="418.57" y="322.39" width="4.1" height="4.1" fill="#111"/><rect x="426.31" y="324.9" width="4.1" height="4.1" fill="#111"/><rect x="434.05" y="326.69" width="4.1" height="4.1" fill="#111"/><rect x="441.79" y="326.69" width="4.1" height="4.1" fill="#111"/><rect x="449.53" y="326.69" width="4.1" height="4.1" fill="#111"/><rect x="457.27" y="327.76" width="4.1" height="4.1" fill="#111"/><rect x="465.01" y="327.76" width="4.1" height="4.1" fill="#111"/><rect x="472.75" y="325.97" width="4.1" height="4.1" fill="#111"/><rect x="480.49" y="325.97" width="4.1" height="4.1" fill="#111"/><rect x="488.23" y="325.97" width="4.1" height="4.1" fill="#111"/><rect x="495.97" y="325.97" width="4.1" height="4.1" fill="#111"/><rect x="503.71" y="325.25" width="4.1" height="4.1" fill="#111"/>
<polyline points="327.74,331.24 335.48,331.06 343.22,326.59 350.96,315.85 358.7,209.88 366.44,243.17 374.18,285.06 381.92,299.38 389.66,320.14 397.4,320.86 405.14,324.44 412.88,328.74 420.62,329.81 428.36,330.53 436.1,330.53 443.84,330.53 451.58,330.53 459.32,331.6 467.06,331.6 474.8,331.6 482.54,331.6 490.28,331.6 498.02,331.6 505.76,331.6" fill="none" stroke="#111" stroke-width="1.0" stroke-linejoin="round"/>
<circle cx="327.74" cy="331.24" r="2.0" fill="#fff" stroke="#111" stroke-width="0.95"/><circle cx="335.48" cy="331.06" r="2.0" fill="#fff" stroke="#111" stroke-width="0.95"/><circle cx="343.22" cy="326.59" r="2.0" fill="#fff" stroke="#111" stroke-width="0.95"/><circle cx="350.96" cy="315.85" r="2.0" fill="#fff" stroke="#111" stroke-width="0.95"/><circle cx="358.7" cy="209.88" r="2.0" fill="#fff" stroke="#111" stroke-width="0.95"/><circle cx="366.44" cy="243.17" r="2.0" fill="#fff" stroke="#111" stroke-width="0.95"/><circle cx="374.18" cy="285.06" r="2.0" fill="#fff" stroke="#111" stroke-width="0.95"/><circle cx="381.92" cy="299.38" r="2.0" fill="#fff" stroke="#111" stroke-width="0.95"/><circle cx="389.66" cy="320.14" r="2.0" fill="#fff" stroke="#111" stroke-width="0.95"/><circle cx="397.4" cy="320.86" r="2.0" fill="#fff" stroke="#111" stroke-width="0.95"/><circle cx="405.14" cy="324.44" r="2.0" fill="#fff" stroke="#111" stroke-width="0.95"/><circle cx="412.88" cy="328.74" r="2.0" fill="#fff" stroke="#111" stroke-width="0.95"/><circle cx="420.62" cy="329.81" r="2.0" fill="#fff" stroke="#111" stroke-width="0.95"/><circle cx="428.36" cy="330.53" r="2.0" fill="#fff" stroke="#111" stroke-width="0.95"/><circle cx="436.1" cy="330.53" r="2.0" fill="#fff" stroke="#111" stroke-width="0.95"/><circle cx="443.84" cy="330.53" r="2.0" fill="#fff" stroke="#111" stroke-width="0.95"/><circle cx="451.58" cy="330.53" r="2.0" fill="#fff" stroke="#111" stroke-width="0.95"/><circle cx="459.32" cy="331.6" r="2.0" fill="#fff" stroke="#111" stroke-width="0.95"/><circle cx="467.06" cy="331.6" r="2.0" fill="#fff" stroke="#111" stroke-width="0.95"/><circle cx="474.8" cy="331.6" r="2.0" fill="#fff" stroke="#111" stroke-width="0.95"/><circle cx="482.54" cy="331.6" r="2.0" fill="#fff" stroke="#111" stroke-width="0.95"/><circle cx="490.28" cy="331.6" r="2.0" fill="#fff" stroke="#111" stroke-width="0.95"/><circle cx="498.02" cy="331.6" r="2.0" fill="#fff" stroke="#111" stroke-width="0.95"/><circle cx="505.76" cy="331.6" r="2.0" fill="#fff" stroke="#111" stroke-width="0.95"/>
</g>
<g id="legend">
<path d="M145 9.5H163" stroke="#111" stroke-width="1.0"/><circle cx="154" cy="9.5" r="2.15" fill="#111"/><text class="lg" x="167.5" y="13.1">IL-6</text>
<path d="M145 26.2H163" stroke="#111" stroke-width="1.0"/><circle cx="154" cy="26.2" r="2.0" fill="#fff" stroke="#111" stroke-width="0.95"/><text class="lg" x="167.5" y="29.8">EPO</text>
<path d="M145 43H163" stroke="#111" stroke-width="1.0"/><rect x="151.95" y="40.95" width="4.1" height="4.1" fill="#111"/><text class="lg" x="167.5" y="46.6"><tspan font-family="'Liberation Serif',serif" font-weight="normal" font-size="10.5px">β</tspan><tspan dx="1.2" letter-spacing="0.36">-Hexosaminidase</tspan></text>
<path d="M405 25.4H425" stroke="#111" stroke-width="1.0"/><rect x="413.25" y="23.65" width="3.5" height="3.5" fill="#fff" stroke="#111" stroke-width="0.95"/><text class="lg" x="428.6" y="29">ECP</text>
</g>
<text class="ax" x="288.5" y="398.6" text-anchor="middle">Fraction Number</text>
<text class="ax" transform="translate(13.9 176.9) rotate(-90)" text-anchor="middle">Activity (% of total)</text>
</svg></body></html>
